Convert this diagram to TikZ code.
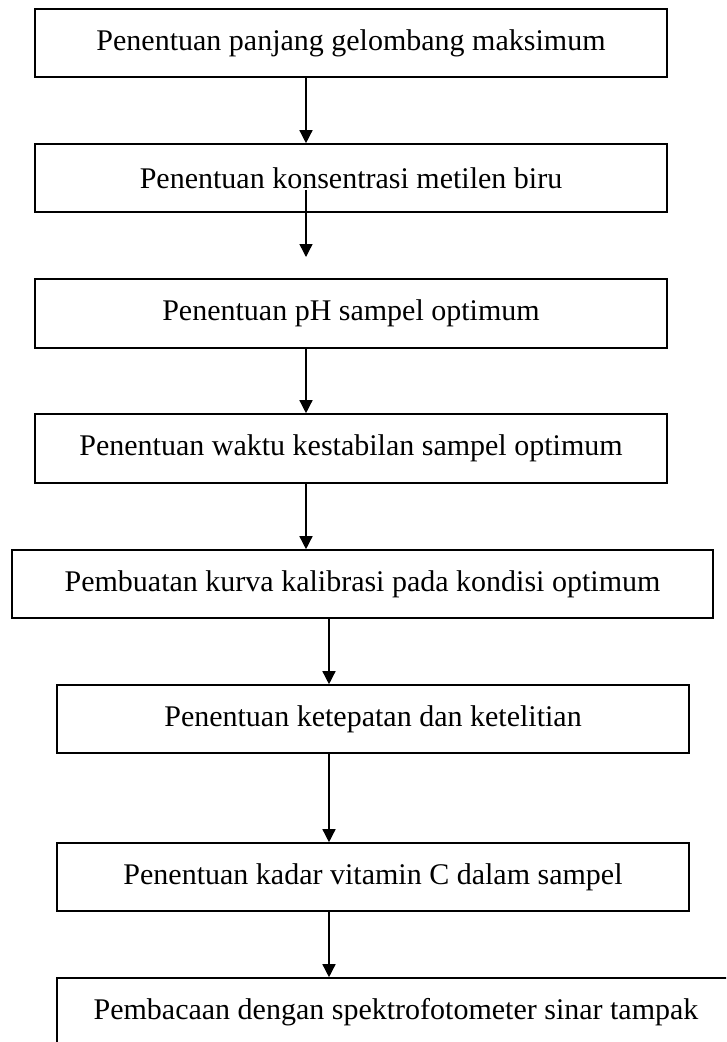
\documentclass[tikz,border=0pt]{standalone}
\usepackage{fontspec}
\setmainfont{Liberation Serif}
\usetikzlibrary{arrows.meta}

\begin{document}
\begin{tikzpicture}[x=1pt, y=-1pt,
        kotak/.style={draw=black, line width=1.6pt, fill=white, minimum height=68pt, inner sep=0pt, font=\fontsize{30}{36}\selectfont},
        panah/.style={line width=1.4pt, -{Triangle[width=13pt,length=13pt]}}]
        \useasboundingbox (0,0) rectangle (726,1042);
        \clip (0,0) rectangle (726,1042);
        \fill[white] (0,0) rectangle (726,1042);

        % kotak
        \node[kotak, minimum width=632pt] (b1) at (351,43) {Penentuan panjang gelombang maksimum};
        \node[kotak, minimum width=632pt] (b2) at (351,178) {Penentuan konsentrasi metilen biru};
        \node[kotak, minimum width=632pt, minimum height=69pt] (b3) at (351,313.5) {Penentuan pH sampel optimum};
        \node[kotak, minimum width=632pt, minimum height=69pt] (b4) at (351,448.5) {Penentuan waktu kestabilan sampel optimum};
        \node[kotak, minimum width=701pt] (b5) at (362.5,584) {Pembuatan kurva kalibrasi pada kondisi optimum};
        \node[kotak, minimum width=632pt] (b6) at (373,719) {Penentuan ketepatan dan ketelitian};
        \node[kotak, minimum width=632pt] (b7) at (373,877) {Penentuan kadar vitamin C dalam sampel};
        \node[kotak, minimum width=678pt] (b8) at (396,1012) {Pembacaan dengan spektrofotometer sinar tampak};

        % panah
        \coordinate (t2) at (306,257);
        \draw[panah] ([xshift=-45pt]b1.south) -- ([xshift=-45pt]b2.north);
        \draw[panah] ([xshift=-45pt,yshift=23pt]b2.south) -- (t2);
        \draw[panah] ([xshift=-45pt]b3.south) -- ([xshift=-45pt]b4.north);
        \draw[panah] ([xshift=-45pt]b4.south) -- ([xshift=-45pt]b4.south |- b5.north);
        \draw[panah] ([xshift=-44pt]b6.north |- b5.south) -- ([xshift=-44pt]b6.north);
        \draw[panah] ([xshift=-44pt]b6.south) -- ([xshift=-44pt]b7.north);
        \draw[panah] ([xshift=-44pt]b7.south) -- ([xshift=-44pt]b7.south |- b8.north);
    \end{tikzpicture}
\end{document}
